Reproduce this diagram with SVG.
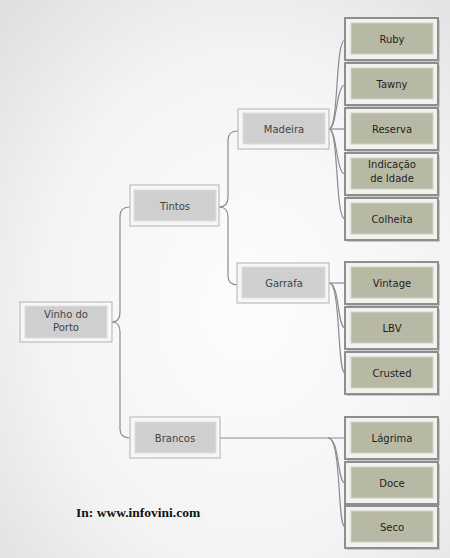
<svg xmlns="http://www.w3.org/2000/svg" width="450" height="558" viewBox="0 0 450 558">
<defs>
<radialGradient id="bg" cx="55%" cy="55%" r="75%">
<stop offset="0" stop-color="#fdfdfd"/>
<stop offset="0.6" stop-color="#f4f4f4"/>
<stop offset="1" stop-color="#e0e0e0"/>
</radialGradient>
<style>
.o{fill:#f7f7f7;stroke:#bdbdbd;stroke-width:1.2}
.i{fill:#cfcfcf;stroke:#dedede;stroke-width:1}
.lo{fill:#f2f2ee;stroke:#8e8e8e;stroke-width:2}
.ls{fill:#c8c8c8}
.li{fill:#b8b9a5;stroke:#d2d3c6;stroke-width:1}
.t{font-family:"DejaVu Sans",sans-serif;font-size:10px;fill:#444;text-anchor:middle}
.lt{font-family:"DejaVu Sans",sans-serif;font-size:10px;fill:#1e1e1e;text-anchor:middle}
.c{fill:none;stroke:#8c8c8c;stroke-width:1.2}
</style>
</defs>
<rect width="450" height="558" fill="url(#bg)"/>
<g id="connectors">
<path class="c" d="M112,322 C118,322 120,318 120,312 L120,216 C120,210 123,207 130,207"/>
<path class="c" d="M112,322 C118,322 120,326 120,332 L120,429 C120,435 123,438 130,438"/>
<path class="c" d="M219,207 C225,207 228,203 228,197 L228,140 C228,134 231,131 238,131"/>
<path class="c" d="M219,207 C225,207 228,211 228,217 L228,276 C228,282 231,285 238,285"/>
<path class="c" d="M329,129 C339,129 335,40 345,40"/>
<path class="c" d="M329,129 C337,129 336,85 345,85"/>
<path class="c" d="M329,129 L345,129"/>
<path class="c" d="M329,129 C337,129 336,174 345,174"/>
<path class="c" d="M329,129 C339,129 335,219 345,219"/>
<path class="c" d="M329,283 L345,283"/>
<path class="c" d="M329,283 C340,283 337,328 345,328"/>
<path class="c" d="M329,283 C341,283 337,373 345,373"/>
<path class="c" d="M220,438 L345,438"/>
<path class="c" d="M328,438 C340,438 337,483 345,483"/>
<path class="c" d="M328,438 C342,438 337,527 345,527"/>
</g>
<g id="vinho">
<rect class="o" x="20" y="302" width="92" height="40"/>
<rect class="i" x="25" y="306" width="82" height="32"/>
<text class="t" x="66" y="318">Vinho do</text>
<text class="t" x="66" y="331">Porto</text>
</g>
<g id="tintos">
<rect class="o" x="130" y="185" width="89" height="41"/>
<rect class="i" x="134" y="190" width="82" height="31"/>
<text class="t" x="175" y="210">Tintos</text>
</g>
<g id="madeira">
<rect class="o" x="238" y="109" width="91" height="40"/>
<rect class="i" x="243" y="113" width="82" height="31"/>
<text class="t" x="284" y="133">Madeira</text>
</g>
<g id="garrafa">
<rect class="o" x="237" y="263" width="92" height="40"/>
<rect class="i" x="242" y="267" width="83" height="31"/>
<text class="t" x="284" y="287">Garrafa</text>
</g>
<g id="brancos">
<rect class="o" x="130" y="417" width="90" height="41"/>
<rect class="i" x="135" y="422" width="81" height="31"/>
<text class="t" x="175" y="442">Brancos</text>
</g>
<g id="ruby"><rect class="ls" x="347" y="20" width="93" height="42"/><rect class="lo" x="345" y="18" width="93" height="42"/><rect class="li" x="351" y="23" width="82" height="31"/><text class="lt" x="392" y="43">Ruby</text></g>
<g id="tawny"><rect class="ls" x="347" y="65" width="93" height="42"/><rect class="lo" x="345" y="63" width="93" height="42"/><rect class="li" x="351" y="68" width="82" height="31"/><text class="lt" x="392" y="88">Tawny</text></g>
<g id="reserva"><rect class="ls" x="347" y="110" width="93" height="42"/><rect class="lo" x="345" y="108" width="93" height="42"/><rect class="li" x="351" y="113" width="82" height="31"/><text class="lt" x="392" y="133">Reserva</text></g>
<g id="indicacao"><rect class="ls" x="347" y="155" width="93" height="42"/><rect class="lo" x="345" y="153" width="93" height="42"/><rect class="li" x="351" y="158" width="82" height="31"/><text class="lt" x="392" y="168">Indicação</text><text class="lt" x="392" y="182">de Idade</text></g>
<g id="colheita"><rect class="ls" x="347" y="200" width="93" height="42"/><rect class="lo" x="345" y="198" width="93" height="42"/><rect class="li" x="351" y="203" width="82" height="31"/><text class="lt" x="392" y="223">Colheita</text></g>
<g id="vintage"><rect class="ls" x="347" y="264" width="93" height="42"/><rect class="lo" x="345" y="262" width="93" height="42"/><rect class="li" x="351" y="267" width="82" height="31"/><text class="lt" x="392" y="287">Vintage</text></g>
<g id="lbv"><rect class="ls" x="347" y="309" width="93" height="42"/><rect class="lo" x="345" y="307" width="93" height="42"/><rect class="li" x="351" y="312" width="82" height="31"/><text class="lt" x="392" y="332">LBV</text></g>
<g id="crusted"><rect class="ls" x="347" y="354" width="93" height="42"/><rect class="lo" x="345" y="352" width="93" height="42"/><rect class="li" x="351" y="357" width="82" height="31"/><text class="lt" x="392" y="377">Crusted</text></g>
<g id="lagrima"><rect class="ls" x="347" y="419" width="93" height="42"/><rect class="lo" x="345" y="417" width="93" height="42"/><rect class="li" x="351" y="422" width="82" height="31"/><text class="lt" x="392" y="442">Lágrima</text></g>
<g id="doce"><rect class="ls" x="347" y="464" width="93" height="42"/><rect class="lo" x="345" y="462" width="93" height="42"/><rect class="li" x="351" y="467" width="82" height="31"/><text class="lt" x="392" y="487">Doce</text></g>
<g id="seco"><rect class="ls" x="347" y="508" width="93" height="42"/><rect class="lo" x="345" y="506" width="93" height="42"/><rect class="li" x="351" y="511" width="82" height="31"/><text class="lt" x="392" y="531">Seco</text></g>
<text x="76" y="517" font-family="'Liberation Serif',serif" font-weight="bold" font-size="13.5" fill="#111">In: www.infovini.com</text>
</svg>
